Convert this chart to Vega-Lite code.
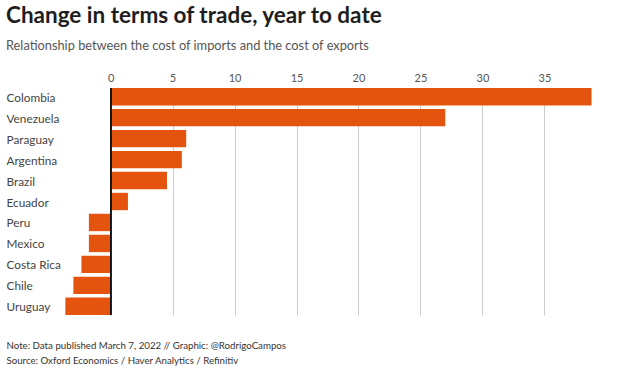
{
  "$schema": "https://vega.github.io/schema/vega-lite/v6.json",
  "width": 533,
  "height": 227,
  "autosize": {"type": "none"},
  "padding": {"left": 61, "top": 88, "right": 28, "bottom": 57},
  "background": "white",
  "config": {
    "font": "Lato",
    "view": {"stroke": null}
  },
  "title": {
    "text": "Change in terms of trade, year to date",
    "subtitle": "Relationship between the cost of imports and the cost of exports",
    "anchor": "start",
    "frame": "group",
    "dx": -55,
    "dy": -5,
    "offset": 14,
    "font": "Lato",
    "fontSize": 22.5,
    "fontWeight": "bold",
    "color": "#1e1e1e",
    "subtitleFont": "Lato",
    "subtitleFontSize": 12.8,
    "subtitleColor": "#555555",
    "subtitlePadding": 13
  },
  "data": {
    "values": [
      {"country": "Colombia", "change": 38.8},
      {"country": "Venezuela", "change": 27.0},
      {"country": "Paraguay", "change": 6.1},
      {"country": "Argentina", "change": 5.75},
      {"country": "Brazil", "change": 4.55},
      {"country": "Ecuador", "change": 1.4},
      {"country": "Peru", "change": -1.75},
      {"country": "Mexico", "change": -1.75},
      {"country": "Costa Rica", "change": -2.35},
      {"country": "Chile", "change": -3.0},
      {"country": "Uruguay", "change": -3.65}
    ]
  },
  "layer": [
    {
      "mark": {"type": "bar", "color": "#e5540f"},
      "encoding": {
        "y": {
          "field": "country",
          "type": "nominal",
          "sort": null,
          "scale": {"paddingInner": 0.17, "paddingOuter": 0},
          "axis": {
            "title": null,
            "ticks": false,
            "domain": false,
            "labelAlign": "left",
            "labelPadding": 55,
            "labelFontSize": 11.8,
            "labelColor": "#444444",
            "labelFont": "Lato",
            "labelOffset": 1
          }
        },
        "x": {
          "field": "change",
          "type": "quantitative",
          "scale": {"domain": [-4, 39], "nice": false, "zero": false},
          "axis": {
            "orient": "top",
            "title": null,
            "values": [0, 5, 10, 15, 20, 25, 30, 35],
            "ticks": false,
            "domain": false,
            "grid": true,
            "gridColor": "#cccccc",
            "gridWidth": 1,
            "labelFontSize": 11,
            "labelColor": "#555555",
            "labelPadding": 5,
            "labelFont": "Lato"
          }
        }
      }
    },
    {
      "mark": {"type": "rule", "color": "#111111", "strokeWidth": 1.2},
      "encoding": {
        "x": {
          "datum": 0,
          "type": "quantitative",
          "axis": {
            "orient": "bottom",
            "labels": false,
            "ticks": false,
            "domain": false,
            "grid": false,
            "title": ["Note: Data published March 7, 2022 // Graphic: @RodrigoCampos", "Source: Oxford Economics / Haver Analytics / Refinitiv"],
            "titleAlign": "left",
            "titleAnchor": "start",
            "titleBaseline": "top",
            "titleX": -55,
            "titleY": 25,
            "titleFont": "Lato",
            "titleFontSize": 9.7,
            "titleFontWeight": "normal",
            "titleColor": "#333333",
            "titleLineHeight": 15.5
          }
        }
      }
    }
  ],
  "resolve": {"axis": {"x": "independent"}}
}
